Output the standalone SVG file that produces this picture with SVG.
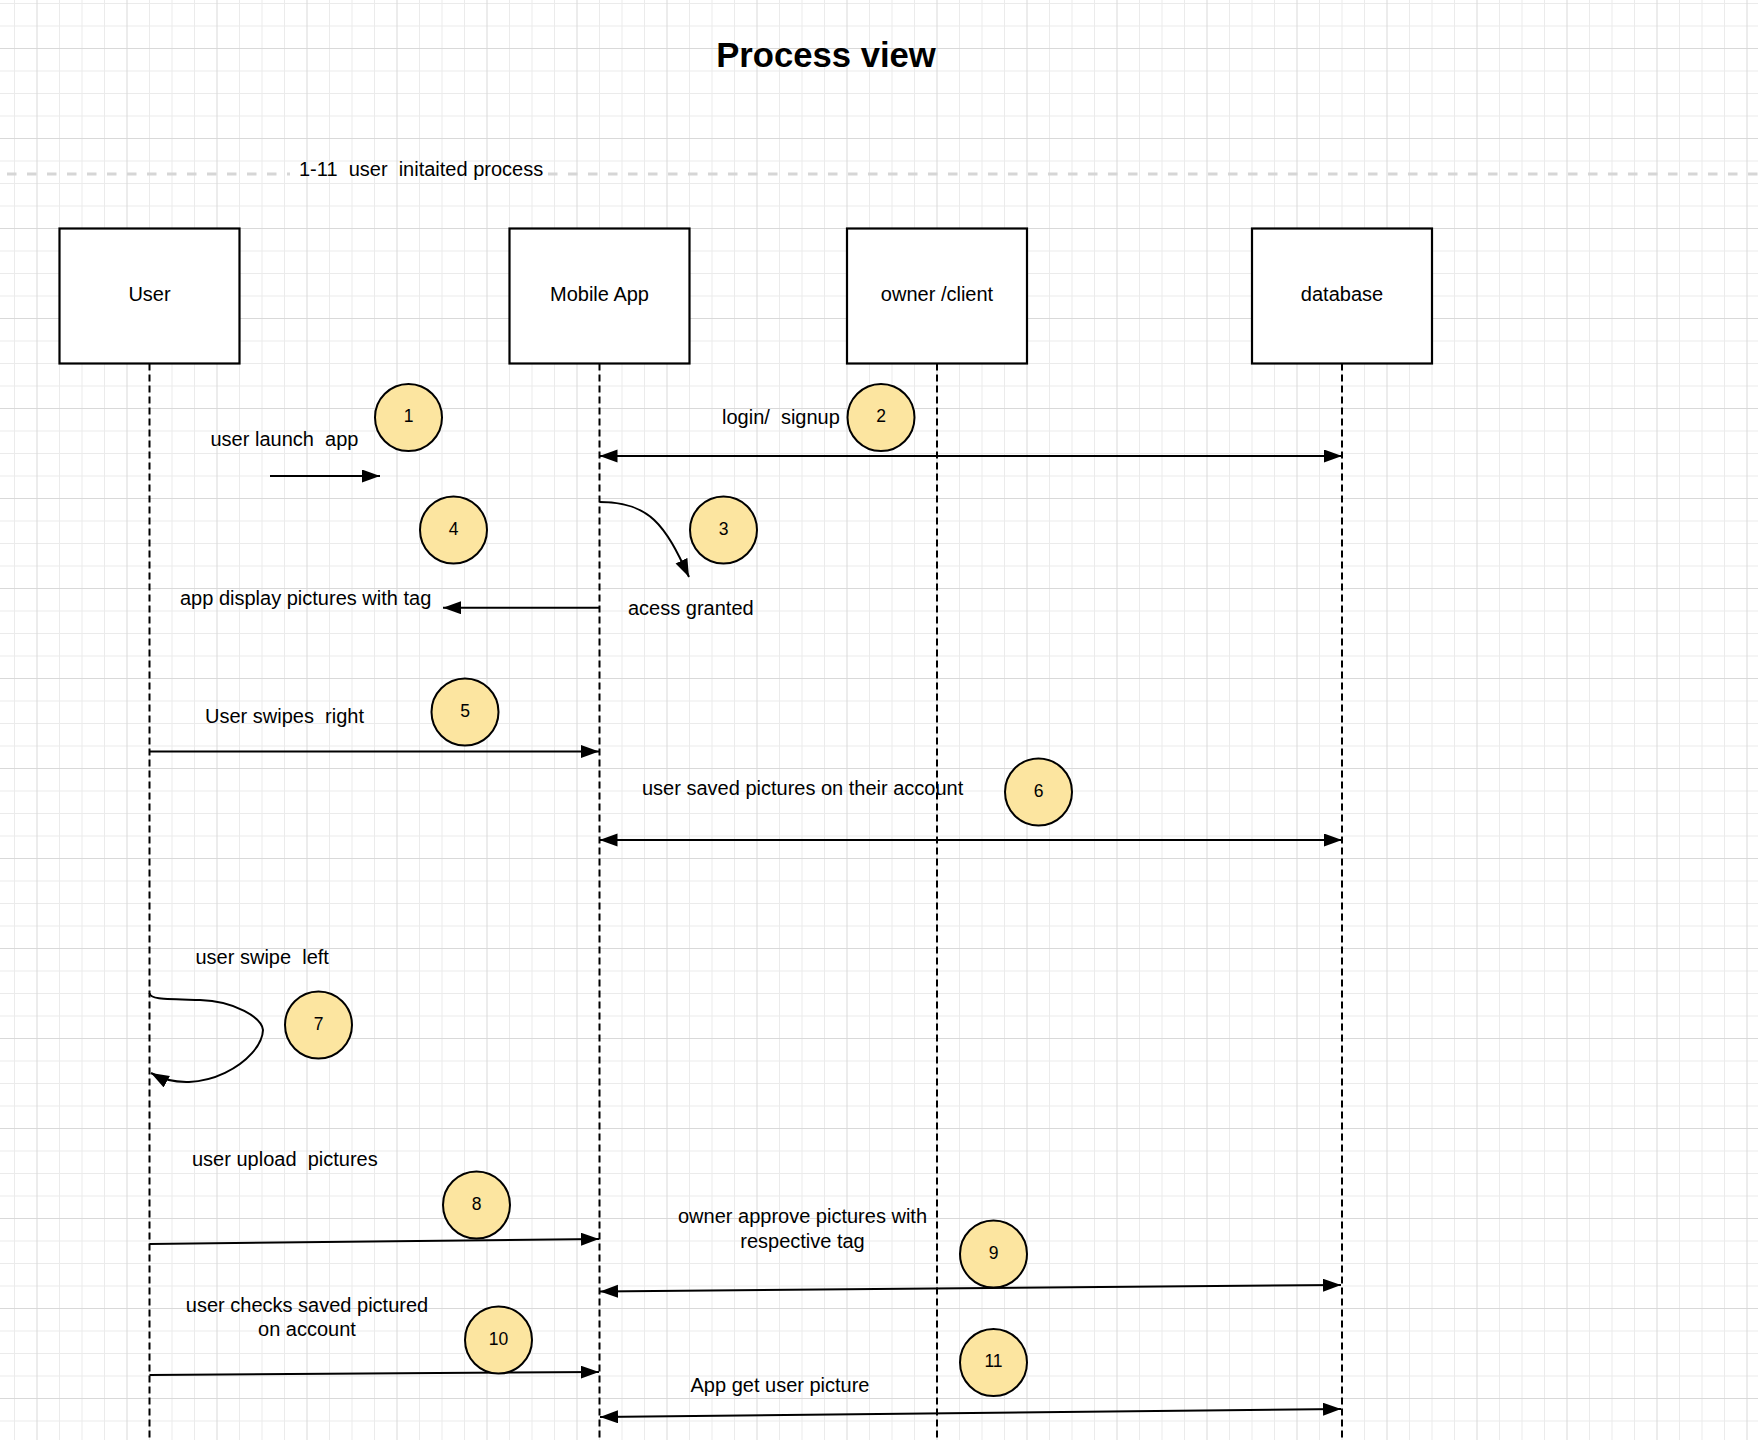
<svg xmlns="http://www.w3.org/2000/svg" width="1758" height="1440" viewBox="0 0 1758 1440" xml:space="preserve">
<style>
.minor{stroke:#ebebeb;stroke-width:1;fill:none}
.major{stroke:#d9d9d9;stroke-width:1;fill:none}
.box{fill:#ffffff;stroke:#000;stroke-width:2.2}
.life{stroke:#000;stroke-width:2;stroke-dasharray:7 4;fill:none}
.step{fill:#fce5a0;stroke:#000;stroke-width:2}
.lbl{font-family:"Liberation Sans",Arial,sans-serif;font-size:20px;fill:#000;white-space:pre}
.num{font-family:"Liberation Sans",Arial,sans-serif;font-size:17.5px;fill:#000;text-anchor:middle}
.mid{text-anchor:middle}
.msg{stroke:#000;stroke-width:2;fill:none}
.one{marker-end:url(#ah)}
.two{marker-end:url(#ah);marker-start:url(#ahs)}
</style>
<defs>
<marker id="ah" markerUnits="userSpaceOnUse" markerWidth="20" markerHeight="14" refX="18" refY="6.5" orient="auto" viewBox="0 0 20 14"><path d="M0,0 L18,6.5 L0,13 Z" fill="#000"/></marker>
<marker id="ahs" markerUnits="userSpaceOnUse" markerWidth="20" markerHeight="14" refX="18" refY="6.5" orient="auto-start-reverse" viewBox="0 0 20 14"><path d="M0,0 L18,6.5 L0,13 Z" fill="#000"/></marker>
</defs>
<rect x="0" y="0" width="1758" height="1440" fill="#ffffff"/>
<g id="grid">
<path class="minor" d="M14.5 0V1440M59.5 0V1440M82 0V1440M104.5 0V1440M149.5 0V1440M172 0V1440M194.5 0V1440M239.5 0V1440M262 0V1440M284.5 0V1440M329.5 0V1440M352 0V1440M374.5 0V1440M419.5 0V1440M442 0V1440M464.5 0V1440M509.5 0V1440M532 0V1440M554.5 0V1440M599.5 0V1440M622 0V1440M644.5 0V1440M689.5 0V1440M712 0V1440M734.5 0V1440M779.5 0V1440M802 0V1440M824.5 0V1440M869.5 0V1440M892 0V1440M914.5 0V1440M959.5 0V1440M982 0V1440M1004.5 0V1440M1049.5 0V1440M1072 0V1440M1094.5 0V1440M1139.5 0V1440M1162 0V1440M1184.5 0V1440M1229.5 0V1440M1252 0V1440M1274.5 0V1440M1319.5 0V1440M1342 0V1440M1364.5 0V1440M1409.5 0V1440M1432 0V1440M1454.5 0V1440M1499.5 0V1440M1522 0V1440M1544.5 0V1440M1589.5 0V1440M1612 0V1440M1634.5 0V1440M1679.5 0V1440M1702 0V1440M1724.5 0V1440"/>
<path class="minor" d="M0 3.5H1758M0 26H1758M0 71H1758M0 93.5H1758M0 116H1758M0 161H1758M0 183.5H1758M0 206H1758M0 251H1758M0 273.5H1758M0 296H1758M0 341H1758M0 363.5H1758M0 386H1758M0 431H1758M0 453.5H1758M0 476H1758M0 521H1758M0 543.5H1758M0 566H1758M0 611H1758M0 633.5H1758M0 656H1758M0 701H1758M0 723.5H1758M0 746H1758M0 791H1758M0 813.5H1758M0 836H1758M0 881H1758M0 903.5H1758M0 926H1758M0 971H1758M0 993.5H1758M0 1016H1758M0 1061H1758M0 1083.5H1758M0 1106H1758M0 1151H1758M0 1173.5H1758M0 1196H1758M0 1241H1758M0 1263.5H1758M0 1286H1758M0 1331H1758M0 1353.5H1758M0 1376H1758M0 1421H1758"/>
<path class="major" d="M37 0V1440M127 0V1440M217 0V1440M307 0V1440M397 0V1440M487 0V1440M577 0V1440M667 0V1440M757 0V1440M847 0V1440M937 0V1440M1027 0V1440M1117 0V1440M1207 0V1440M1297 0V1440M1387 0V1440M1477 0V1440M1567 0V1440M1657 0V1440M1747 0V1440"/>
<path class="major" d="M0 48.5H1758M0 138.5H1758M0 228.5H1758M0 318.5H1758M0 408.5H1758M0 498.5H1758M0 588.5H1758M0 678.5H1758M0 768.5H1758M0 858.5H1758M0 948.5H1758M0 1038.5H1758M0 1128.5H1758M0 1218.5H1758M0 1308.5H1758M0 1398.5H1758"/>
</g>
<g id="title">
<text x="826" y="67" class="lbl mid" style="font-size:34.67px;font-weight:bold">Process view</text>
</g>
<g id="section">
<path d="M7 174H290M548 174H1758" stroke="#d6d6d6" stroke-width="3" stroke-dasharray="9.5 10.5" fill="none"/>
<text x="299" y="176" class="lbl">1-11  user  initaited process</text>
</g>
<g id="lifelines">
<path class="life" d="M149.5 363.5V1440M599.5 363.5V1440M937 363.5V1440M1342 363.5V1440"/>
</g>
<g id="node-user">
<rect class="box" x="59.5" y="228.5" width="180" height="135"/>
<text x="149.5" y="301" class="lbl mid">User</text>
</g>
<g id="node-mobile-app">
<rect class="box" x="509.5" y="228.5" width="180" height="135"/>
<text x="599.5" y="301" class="lbl mid">Mobile App</text>
</g>
<g id="node-owner-client">
<rect class="box" x="847" y="228.5" width="180" height="135"/>
<text x="937" y="301" class="lbl mid">owner /client</text>
</g>
<g id="node-database">
<rect class="box" x="1252" y="228.5" width="180" height="135"/>
<text x="1342" y="301" class="lbl mid">database</text>
</g>
<g id="connectors">
<path class="msg one" d="M270 476H380"/>
<path class="msg two" d="M599.5 456H1342"/>
<path class="msg one" d="M599.5 502C650 502 665 525 689 577"/>
<path class="msg one" d="M599.5 607.7H443"/>
<path class="msg one" d="M149.5 751.5H599"/>
<path class="msg two" d="M599.5 840H1342"/>
<path class="msg one" d="M149.5 993C150 999 160 999 200 1000C235 1001 262 1018 263 1030C262 1060 200 1100 151 1073"/>
<path class="msg one" d="M149.5 1244L599 1239"/>
<path class="msg two" d="M600 1291.5L1341 1285"/>
<path class="msg one" d="M149.5 1375L599 1372"/>
<path class="msg two" d="M600 1417L1341 1409"/>
</g>
<g id="labels">
<text x="210.5" y="446" class="lbl">user launch  app</text>
<text x="722" y="424" class="lbl">login/  signup</text>
<text x="628" y="615" class="lbl">acess granted</text>
<text x="180" y="605" class="lbl">app display pictures with tag</text>
<text x="205" y="723" class="lbl">User swipes  right</text>
<text x="642" y="795" class="lbl">user saved pictures on their account</text>
<text x="195.5" y="964" class="lbl">user swipe  left</text>
<text x="192" y="1166" class="lbl">user upload  pictures</text>
<text x="802.5" y="1223" class="lbl mid">owner approve pictures with</text>
<text x="802.5" y="1248" class="lbl mid">respective tag</text>
<text x="307" y="1311.5" class="lbl mid">user checks saved pictured</text>
<text x="307" y="1336" class="lbl mid">on account</text>
<text x="780" y="1392" class="lbl mid">App get user picture</text>
</g>
<g id="step-1"><circle class="step" cx="408.5" cy="417.5" r="33.5"/><text x="408.5" y="422" class="num">1</text></g>
<g id="step-2"><circle class="step" cx="881" cy="417.5" r="33.5"/><text x="881" y="422" class="num">2</text></g>
<g id="step-3"><circle class="step" cx="723.5" cy="530" r="33.5"/><text x="723.5" y="534.5" class="num">3</text></g>
<g id="step-4"><circle class="step" cx="453.5" cy="530" r="33.5"/><text x="453.5" y="534.5" class="num">4</text></g>
<g id="step-5"><circle class="step" cx="465" cy="712" r="33.5"/><text x="465" y="716.5" class="num">5</text></g>
<g id="step-6"><circle class="step" cx="1038.5" cy="792" r="33.5"/><text x="1038.5" y="796.5" class="num">6</text></g>
<g id="step-7"><circle class="step" cx="318.5" cy="1025" r="33.5"/><text x="318.5" y="1029.5" class="num">7</text></g>
<g id="step-8"><circle class="step" cx="476.5" cy="1205" r="33.5"/><text x="476.5" y="1209.5" class="num">8</text></g>
<g id="step-9"><circle class="step" cx="993.5" cy="1254" r="33.5"/><text x="993.5" y="1258.5" class="num">9</text></g>
<g id="step-10"><circle class="step" cx="498.5" cy="1340" r="33.5"/><text x="498.5" y="1344.5" class="num">10</text></g>
<g id="step-11"><circle class="step" cx="993.5" cy="1362.5" r="33.5"/><text x="993.5" y="1367" class="num">11</text></g>
</svg>
